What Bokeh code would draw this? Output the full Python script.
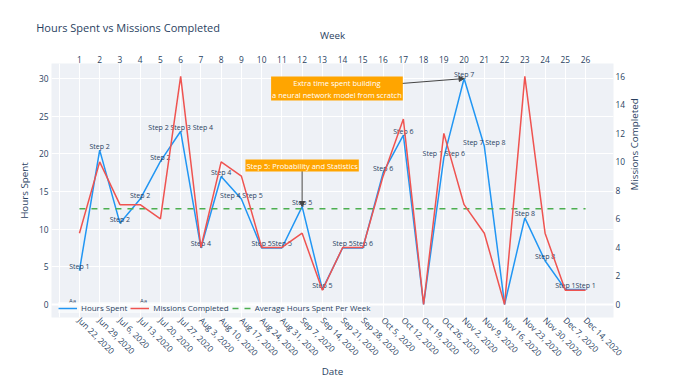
import math
from bokeh.plotting import figure
from bokeh.models import (Range1d, LinearAxis, FixedTicker, Label, Arrow, NormalHead,
                          Legend, LegendItem, ColumnDataSource, Span)
from bokeh.core.properties import value
from bokeh.embed import file_html
from bokeh.resources import INLINE

# ---------------- data ----------------
WEEKS = list(range(1, 27))
DATES = ["Jun 22, 2020", "Jun 29, 2020", "Jul 6, 2020", "Jul 13, 2020", "Jul 20, 2020",
         "Jul 27, 2020", "Aug 3, 2020", "Aug 10, 2020", "Aug 17, 2020", "Aug 24, 2020",
         "Aug 31, 2020", "Sep 7, 2020", "Sep 14, 2020", "Sep 21, 2020", "Sep 28, 2020",
         "Oct 5, 2020", "Oct 12, 2020", "Oct 19, 2020", "Oct 26, 2020", "Nov 2, 2020",
         "Nov 9, 2020", "Nov 16, 2020", "Nov 23, 2020", "Nov 30, 2020", "Dec 7, 2020",
         "Dec 14, 2020"]
HOURS = [4.5, 20.5, 10.8, 14, 19, 23, 7.5, 17, 14, 7.5, 7.5, 13, 2, 7.5, 7.5, 17.5,
         22.5, 0, 19.5, 30, 21, 0, 11.5, 5.8, 2, 2]
MISSIONS = [5, 10, 7, 7, 6, 16, 4, 10, 9, 4, 4, 5, 1, 4, 4, 9, 13, 0, 12, 7, 5, 0, 16, 5, 1, 1]
STEPS = ["Step 1", "Step 2", "Step 2", "Step 2", "Step 2", "Step 2 Step 3 Step 4", "Step 4",
         "Step 4", "Step 4 Step 5", "Step 5", "Step 5", "Step 5", "Step 5", "Step 5", "Step 6",
         "Step 6", "Step 6", "", "Step 1 Step 6", "Step 7", "Step 7 Step 8", "", "Step 8",
         "Step 8", "Step 1", "Step 1"]
AVG_HOURS = 12.7
LEFT_TICKS = [0, 5, 10, 15, 20, 25, 30]
RIGHT_TICKS = [0, 2, 4, 6, 8, 10, 12, 14, 16]
GRID_WEEKS = list(range(0, 27))

TITLE = "Hours Spent vs Missions Completed"
NOTE_STEP5 = "Step 5: Probability and Statistics"
NOTE_NN = "Extra time spent building\na neural network model from scratch"

# ---------------- style ----------------
FONT = "Open Sans"
INK = "#2a3f5f"
BLUE = "#2196f3"
RED = "#ef5350"
GREEN = "#4caf50"
ORANGE = "#ffa500"

p = figure(width=700, height=382, output_backend="svg", toolbar_location=None,
           x_range=Range1d(-0.38, 27.38), y_range=Range1d(-1.73, 32.0),
           min_border_left=51, min_border_right=87, min_border_top=63, min_border_bottom=65,
           background_fill_color="#eef1f6", border_fill_color="white",
           outline_line_color=None)
p.extra_y_ranges = {"missions": Range1d(-0.91, 16.9)}

# chart title: sits in the same band as the "Week" axis title
p.title.text = TITLE
p.title.align = "left"
p.title.offset = -15.3
p.title.standoff = -19
p.title.vertical_align = "bottom"
p.title.text_font = FONT
p.title.text_font_size = "11px"
p.title.text_font_style = "normal"
p.title.text_color = INK

bottom = p.xaxis[0]
bottom.ticker = FixedTicker(ticks=WEEKS)
bottom.major_label_overrides = {w: d for w, d in zip(WEEKS, DATES)}
bottom.major_label_orientation = -math.pi / 4
bottom.axis_label = "Date"
bottom.major_label_standoff = 1
bottom.axis_label_standoff = 0

left = p.yaxis[0]
left.ticker = FixedTicker(ticks=LEFT_TICKS)
left.axis_label = "Hours Spent"
left.major_label_standoff = 3
left.axis_label_standoff = 5

top = LinearAxis(ticker=FixedTicker(ticks=WEEKS), axis_label="Week")
top.major_label_standoff = 1
top.axis_label_standoff = 11
p.add_layout(top, "above")

right = LinearAxis(y_range_name="missions", ticker=FixedTicker(ticks=RIGHT_TICKS),
                   axis_label="Missions Completed")
right.major_label_standoff = 2
right.axis_label_standoff = 6
right.axis_label_orientation = math.pi / 2
p.add_layout(right, "right")

for ax in [bottom, left, top, right]:
    ax.axis_line_color = None
    ax.major_tick_line_color = None
    ax.minor_tick_line_color = None
    ax.major_tick_out = 0
    ax.major_tick_in = 0
    ax.major_label_text_font = FONT
    ax.major_label_text_font_size = "8.4px"
    ax.major_label_text_color = INK
    ax.axis_label_text_font = FONT
    ax.axis_label_text_font_size = "9.8px"
    ax.axis_label_text_font_style = "normal"
    ax.axis_label_text_color = INK

p.xgrid.ticker = FixedTicker(ticks=GRID_WEEKS)
p.xgrid.grid_line_color = "white"
p.xgrid.grid_line_width = 1
p.ygrid.ticker = FixedTicker(ticks=LEFT_TICKS)
p.ygrid.grid_line_color = "white"
p.ygrid.grid_line_width = 1
p.add_layout(Span(location=0, dimension="width", line_color="white", line_width=2,
                  level="underlay"))

src = ColumnDataSource(dict(week=WEEKS, hours=HOURS, missions=MISSIONS, steps=STEPS))

blue = p.line("week", "hours", source=src, line_color=BLUE, line_width=1.5)
p.text("week", "hours", text="steps", source=src, text_font=value(FONT),
       text_font_size="7px", text_color=INK, text_align="center",
       text_baseline="middle", y_offset=-4)
avg = p.line([WEEKS[0], WEEKS[-1]], [AVG_HOURS, AVG_HOURS], line_color=GREEN,
             line_width=1.5, line_dash="6 6")
red = p.line("week", "missions", source=src, y_range_name="missions",
             line_color=RED, line_width=1.5)

legend = Legend(items=[LegendItem(label="Hours Spent", renderers=[blue]),
                       LegendItem(label="Missions Completed", renderers=[red]),
                       LegendItem(label="Average Hours Spent Per Week", renderers=[avg])],
                location=(7, 4), orientation="horizontal", margin=0, padding=4,
                spacing=3, glyph_width=19, glyph_height=10, label_standoff=4,
                label_width=10,
                label_text_font=FONT, label_text_font_size="8px",
                label_text_color=INK, background_fill_color="white",
                background_fill_alpha=0.55, border_line_color=None)
p.add_layout(legend)

# annotations
i5 = 11   # week 12
p.add_layout(Arrow(end=NormalHead(size=5, fill_color="#444", line_color="#444"),
                   x_start=WEEKS[i5], y_start=HOURS[i5] + 5.45,
                   x_end=WEEKS[i5], y_end=HOURS[i5], line_color="#444", line_width=1))
p.add_layout(Label(x=WEEKS[i5], y=HOURS[i5] + 5.45, text=NOTE_STEP5, text_align="center",
                   text_baseline="middle", text_font=FONT, text_font_size="7.5px",
                   text_color="white", background_fill_color=ORANGE, padding=1))

i7 = 19   # week 20
p.add_layout(Arrow(end=NormalHead(size=5, fill_color="#444", line_color="#444"),
                   x_start=WEEKS[i7] - 6.28, y_start=HOURS[i7] - 1.33,
                   x_end=WEEKS[i7], y_end=HOURS[i7], line_color="#444", line_width=1))
p.add_layout(Label(x=WEEKS[i7] - 6.28, y=HOURS[i7] - 1.33, text=NOTE_NN, text_align="center",
                   text_baseline="middle", text_font=FONT, text_font_size="7.5px",
                   text_color="white", background_fill_color=ORANGE, padding=1))

# "Aa" legend marks for the text-bearing traces
for cx in (72, 143):
    p.add_layout(Label(x=cx, y=300, x_units="canvas", y_units="canvas", text="Aa",
                       text_align="center", text_baseline="middle", text_font=FONT,
                       text_font_size="6px", text_color=INK, level="overlay"))

open("out.html", "w").write(file_html(p, INLINE))
